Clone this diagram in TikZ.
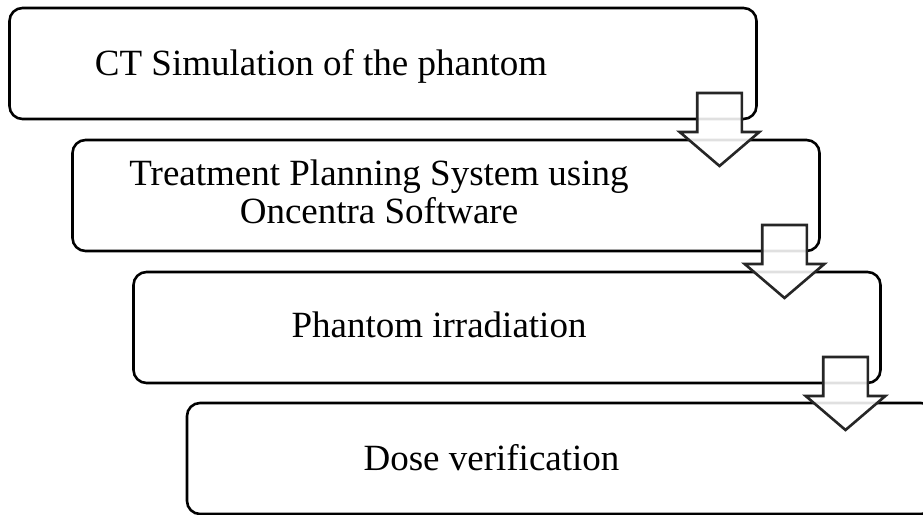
\documentclass[tikz,border=0pt]{standalone}
\usepackage{fontspec}
\setmainfont{Liberation Serif}
\usetikzlibrary{shapes.arrows}
\begin{document}
\begin{tikzpicture}[x=1pt, y=-1pt,
  stage/.style = {shape=rectangle, draw, rounded corners=13pt, line width=2.6pt, minimum width=747pt, minimum height=111pt, inner sep=0pt, outer sep=0pt},
  stagetext/.style = {font=\fontsize{37}{38}\selectfont, align=center, inner sep=0pt},
  stepdown/.style = {shape=single arrow, rotate=-90, anchor=tip, draw=black!85, line width=2.6pt, fill=white, fill opacity=0.88, draw opacity=1, inner xsep=0pt, inner ysep=21pt, outer sep=0pt, minimum height=73pt, single arrow head extend=17.5pt, single arrow tip angle=99, single arrow head indent=0pt}]
	\useasboundingbox (0,0) rectangle (923,514);
	\clip (0,0) rectangle (923,514);
	\node[stage] (ct) at (383,63.5) {};
	\node[stage] (tps) at (446,195.5) {};
	\node[stage] (irr) at (507,327.5) {};
	\node[stage] (dose) at (560.5,458.5) {};
	\node[stagetext, anchor=base] (cttext) at ([xshift=-62pt, yshift=-11.5pt]ct.center) {CT Simulation of the phantom};
	\node[stagetext] (tpstext) at ([xshift=-67pt, yshift=4pt]tps.center) {Treatment Planning System using\\Oncentra Software};
	\node[stagetext, anchor=base] (irrtext) at ([xshift=-68pt, yshift=-10pt]irr.center) {Phantom irradiation};
	\node[stagetext, anchor=base] (dosetext) at ([xshift=-69pt, yshift=-11.5pt]dose.center) {Dose verification};
	\node[stepdown] (a1) at ([xshift=-37pt, yshift=-47pt]ct.south east) {};
	\node[stepdown] (a2) at ([xshift=-35pt, yshift=-47pt]tps.south east) {};
	\node[stepdown] (a3) at ([xshift=-35pt, yshift=-47pt]irr.south east) {};
\end{tikzpicture}
\end{document}
